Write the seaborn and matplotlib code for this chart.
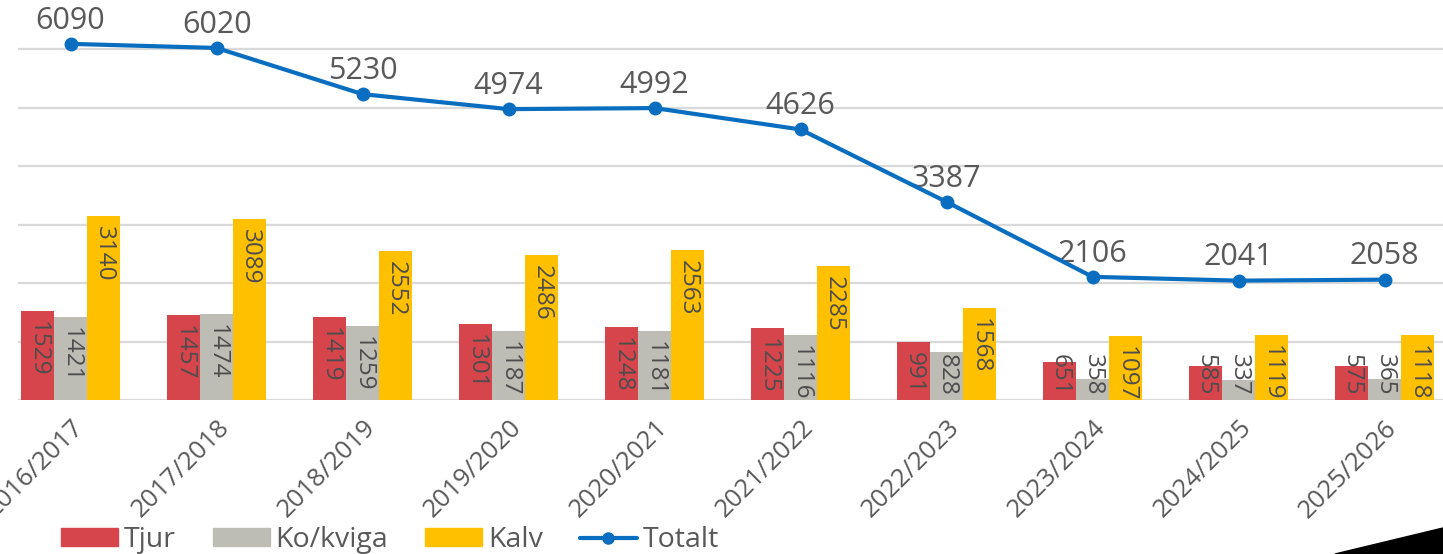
import numpy as np
import pandas as pd
import matplotlib
matplotlib.use('Agg')
import matplotlib.pyplot as plt
from matplotlib.patches import Patch, Polygon
from matplotlib.lines import Line2D
import seaborn as sns

# data
seasons = ['2016/2017', '2017/2018', '2018/2019', '2019/2020', '2020/2021',
           '2021/2022', '2022/2023', '2023/2024', '2024/2025', '2025/2026']
tjur = [1529, 1457, 1419, 1301, 1248, 1225, 991, 651, 585, 575]
ko_kviga = [1421, 1474, 1259, 1187, 1181, 1116, 828, 358, 337, 365]
kalv = [3140, 3089, 2552, 2486, 2563, 2285, 1568, 1097, 1119, 1118]
totalt = [6090, 6020, 5230, 4974, 4992, 4626, 3387, 2106, 2041, 2058]

groups = ['Tjur', 'Ko/kviga', 'Kalv']
colors = ['#D6454B', '#BDBDB5', '#FFC000']
line_color = '#0A6EC0'
text_color = '#595959'

df = pd.DataFrame({'season': seasons * 3,
                   'group': np.repeat(groups, len(seasons)),
                   'value': tjur + ko_kviga + kalv})

sns.set_theme(style='white')
plt.rcParams['font.family'] = ['Open Sans', 'DejaVu Sans']

fig = plt.figure(figsize=(14.43, 5.54), dpi=100)
ax = fig.add_axes([18 / 1443, 154 / 554, 1 - 18 / 1443, 400 / 554])

sns.barplot(data=df, x='season', y='value', hue='group', palette=colors,
            saturation=1, width=0.68, linewidth=0, ax=ax, legend=False)

# bar value labels, rotated, inside the top of each bar
for container in ax.containers:
    for bar in container:
        v = bar.get_height()
        cx = bar.get_x() + bar.get_width() / 2
        ax.text(cx, max(v - 170, 780), f'{v:.0f}', rotation=270,
                ha='center', va='top', fontsize=17.5, color='#4d4d4d')

# total line
x = np.arange(len(seasons))
ax.plot(x, totalt, color=line_color, lw=3, marker='o', markersize=9, zorder=5)
for xi, t in zip(x, totalt):
    ax.annotate(str(t), (xi, t), xytext=(0, 6), textcoords='offset points',
                ha='center', va='bottom', fontsize=22, color=text_color)

ax.set_xlim(-0.36, 9.40)
ax.set_ylim(0, 6840)
ax.set_yticks(range(0, 7000, 1000))
ax.yaxis.grid(True, color='#d9d9d9', lw=1.6)
ax.set_axisbelow(True)
ax.tick_params(axis='y', labelleft=False, length=0)
ax.tick_params(axis='x', length=0, pad=11, labelsize=18.5, labelcolor=text_color)
plt.setp(ax.get_xticklabels(), rotation=45, ha='right', rotation_mode='anchor')
ax.set_xlabel('')
ax.set_ylabel('')
for s in ax.spines.values():
    s.set_visible(False)

handles = [Patch(color=c, label=g) for c, g in zip(colors, groups)]
handles.append(Line2D([], [], color=line_color, lw=3, marker='o', markersize=8, label='Totalt'))
leg = fig.legend(handles=handles, loc='center', ncol=4, frameon=False,
                 bbox_to_anchor=(390 / 1443, 14 / 554), fontsize=20.5,
                 handlelength=2.0, handleheight=0.55, handletextpad=0.2,
                 columnspacing=1.3)
for t in leg.get_texts():
    t.set_color(text_color)

# dark corner in the lower right of the picture
fig.patches.append(Polygon([(1335 / 1443, 0), (1, 26 / 554), (1, 0)],
                           closed=True, transform=fig.transFigure,
                           color='black', zorder=10))

fig.savefig('out.png', dpi=100)
